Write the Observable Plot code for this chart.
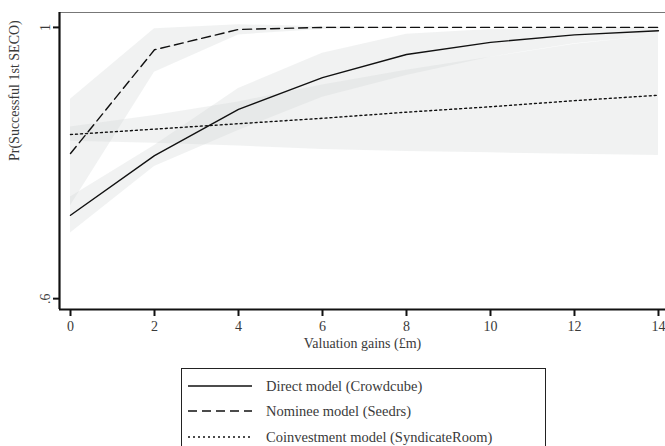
<!DOCTYPE html>
<html>
<head>
<meta charset="utf-8">
<script src="https://cdn.jsdelivr.net/npm/d3@7"></script>
<script src="https://cdn.jsdelivr.net/npm/@observablehq/plot@0.6"></script>
<style>
  body { margin: 0; background: #fff; font-family: "Liberation Serif", "Times New Roman", serif; }
  #wrap { position: relative; width: 665px; height: 446px; overflow: hidden; }
  #legend { position: absolute; left: 181px; top: 368px; width: 365px; height: 90px; border: 1px solid #222; box-sizing: border-box; }
  .row { position: absolute; left: 0; height: 20px; display: flex; align-items: center; font-size: 14.5px; color: #3a3a3a; }
  .row svg { margin-left: 6px; margin-right: 14px; }
</style>
</head>
<body>
<div id="wrap"></div>
<script>
const gains = [0, 2, 4, 6, 8, 10, 12, 14];
const directMean = [0.723, 0.811, 0.879, 0.926, 0.960, 0.978, 0.989, 0.995];
const directLow  = [0.697, 0.795, 0.848, 0.897, 0.929, 0.956, 0.976, 0.988];
const directHigh = [0.750, 0.826, 0.910, 0.962, 0.990, 0.997, 0.999, 1.000];
const nomineeMean = [0.814, 0.967, 0.997, 1.000, 1.000, 1.000, 1.000, 1.000];
const nomineeLow  = [0.737, 0.934, 0.989, 0.997, 0.999, 1.000, 1.000, 1.000];
const nomineeHigh = [0.894, 0.998, 1.004, 1.001, 1.000, 1.000, 1.000, 1.000];
const coinvMean = [0.842, 0.850, 0.858, 0.866, 0.875, 0.883, 0.892, 0.900];
const coinvLow  = [0.832, 0.829, 0.825, 0.820, 0.817, 0.815, 0.813, 0.811];
const coinvHigh = [0.853, 0.870, 0.890, 0.915, 0.937, 0.956, 0.975, 0.988];
const seriesNames = ["Direct model (Crowdcube)", "Nominee model (Seedrs)", "Coinvestment model (SyndicateRoom)"];
const xTicks = [0, 2, 4, 6, 8, 10, 12, 14];
const yTicks = [0.6, 1];
const yTickLabels = [".6", "1"];

const dashes = [null, "9,5", "2,3"];
const series = [
  {name: seriesNames[0], m: directMean, lo: directLow, hi: directHigh},
  {name: seriesNames[1], m: nomineeMean, lo: nomineeLow, hi: nomineeHigh},
  {name: seriesNames[2], m: coinvMean, lo: coinvLow, hi: coinvHigh}
];
const rows = series.map((s, k) => gains.map((g, i) => ({x: g, y: s.m[i], lo: s.lo[i], hi: s.hi[i], k})));

const xMin = -0.262, xMax = 14.167, yMin = 0.584, yMax = 1.022;

const marks = [];
rows.forEach(r => marks.push(Plot.areaY(r, {x: "x", y1: "lo", y2: "hi", fill: "#d0d4d4", fillOpacity: 0.3})));
rows.forEach((r, k) => marks.push(Plot.line(r, {x: "x", y: "y", stroke: "#111", strokeWidth: 1.4, strokeDasharray: dashes[k] || undefined})));
marks.push(Plot.ruleY([yMax], {stroke: "#777", strokeWidth: 1}));
marks.push(Plot.ruleX([xMin], {stroke: "#111", strokeWidth: 2.2}));
marks.push(Plot.ruleY([yMin], {stroke: "#111", strokeWidth: 2.2}));
marks.push(Plot.axisX({ticks: xTicks, tickSize: 7, tickPadding: 5, tickFormat: d => String(d), fontSize: 14, stroke: "#111", strokeWidth: 2, label: "Valuation gains (£m)", labelAnchor: "center", labelArrow: "none", labelOffset: 38}));
marks.push(Plot.axisY({ticks: yTicks, tickSize: 6, tickPadding: 4, tickRotate: -90, tickFormat: d => yTickLabels[yTicks.indexOf(d)], fontSize: 14, stroke: "#111", strokeWidth: 2, label: null}));
marks.push(Plot.text([seriesNames[0]], {frameAnchor: "left", text: () => "Pr(Successful 1st SECO)", rotate: -90, dx: -45, fontSize: 14, fill: "#3a3a3a"}));

const chart = Plot.plot({
  width: 665, height: 360,
  marginTop: 12, marginLeft: 59, marginRight: 0, marginBottom: 51,
  x: {domain: [xMin, xMax]},
  y: {domain: [yMin, yMax]},
  style: {fontFamily: "'Liberation Serif', 'Times New Roman', serif", color: "#3a3a3a", background: "#fff", overflow: "visible"},
  marks
});
const wrap = document.getElementById("wrap");
wrap.appendChild(chart);

const legend = document.createElement("div");
legend.id = "legend";
const rowTops = [7, 32, 58];
seriesNames.forEach((n, k) => {
  const row = document.createElement("div");
  row.className = "row";
  row.style.top = (rowTops[k]) + "px";
  const dash = dashes[k] ? ` stroke-dasharray="${dashes[k]}"` : "";
  row.innerHTML = `<svg width="64" height="4"><line x1="0" y1="2" x2="64" y2="2" stroke="#111" stroke-width="1.6"${dash}/></svg><span>${n}</span>`;
  legend.appendChild(row);
});
wrap.appendChild(legend);
</script>
</body>
</html>
